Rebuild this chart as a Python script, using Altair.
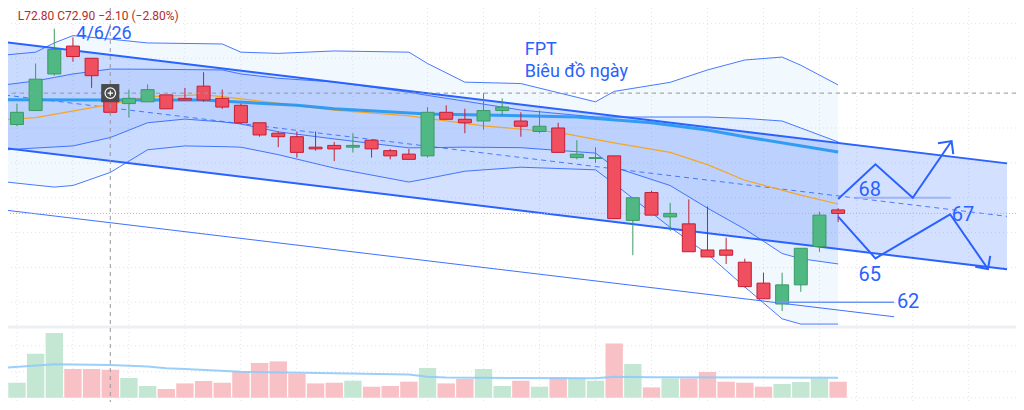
import altair as alt
import pandas as pd

# ---------------- data ----------------
idx = list(range(-1, 45))
opens = [71.0, 72.2, 73.0, 75.1, 76.7, 76.0, 73.9, 73.4, 73.5, 73.9, 73.7, 74.4, 73.7, 73.3, 72.3, 71.7,
         71.5, 70.9, 71.0, 70.9, 71.3, 70.7, 70.5, 70.4, 72.9, 72.5, 72.4, 73.0, 72.4, 71.8, 72.0, 70.3,
         70.25, 70.4, 66.7, 68.3, 66.9, 66.5, 65.0, 65.0, 64.3, 63.1, 61.9, 63.0, 65.2, 67.3]
highs = [71.7, 73.4, 75.7, 77.7, 77.2, 76.0, 74.3, 74.2, 74.5, 73.9, 74.3, 75.2, 74.2, 73.4, 72.3, 71.8,
         71.8, 71.8, 71.2, 71.7, 71.3, 70.8, 70.8, 73.2, 73.3, 73.1, 74.0, 73.7, 72.9, 73.0, 72.3, 71.3,
         70.9, 70.4, 68.0, 68.4, 67.7, 67.9, 67.5, 65.7, 64.5, 63.7, 63.7, 65.1, 67.2, 67.4]
lows = [70.9, 72.1, 73.0, 75.0, 75.8, 74.3, 72.8, 72.6, 73.5, 73.1, 73.6, 73.5, 73.1, 72.3, 71.5, 70.9,
        70.3, 70.7, 70.1, 70.6, 70.3, 70.2, 70.2, 70.3, 72.5, 71.7, 71.9, 72.7, 71.5, 71.7, 70.6, 70.2,
        70.0, 66.8, 64.7, 67.0, 66.1, 64.9, 64.6, 64.2, 62.85, 62.2, 61.5, 62.6, 64.9, 66.6]
closes = [71.6, 72.9, 74.8, 76.5, 76.1, 75.0, 72.9, 73.7, 74.2, 73.1, 73.6, 73.6, 73.2, 72.3, 71.6, 71.5,
          70.6, 70.8, 70.8, 71.0, 70.8, 70.4, 70.2, 72.9, 72.5, 72.3, 73.0, 73.2, 72.1, 72.1, 70.6, 70.5,
          70.3, 66.8, 68.0, 67.0, 67.1, 64.9, 64.6, 64.7, 62.9, 62.2, 63.0, 65.1, 67.0, 67.1]
volumes = [2.63, 2.88, 8.46, 12.44, 5.52, 5.52, 5.38, 3.79, 2.25, 1.67, 2.75, 3.21, 2.88, 5.13, 6.67, 6.98,
           4.62, 2.75, 2.88, 3.27, 2.12, 2.25, 3.08, 5.71, 2.75, 3.6, 5.52, 2.25, 3.27, 2.12, 3.9, 3.85,
           3.27, 10.44, 6.48, 1.98, 3.71, 3.71, 4.94, 3.08, 2.88, 2.12, 2.63, 3.02, 3.71, 3.08]

# volume moving average
vma_i = [-1, 2, 5, 7, 8, 9, 12, 17, 21, 22, 23, 31, 32, 34, 44]
vma_v = [5.7, 6.42, 6.28, 6.0, 5.65, 5.52, 4.98, 4.69, 4.45, 4.04, 3.87, 3.73, 4.04, 3.92, 3.85]

# bollinger-style envelopes
bb_i = [-1, 1, 2, 3, 5, 7, 9, 11, 12, 14, 17, 21, 22, 24, 27, 31, 32, 35, 37, 39, 41, 42, 44]
outer_up = [76.15, 76.35, 76.88, 77.3, 77.1, 76.88, 76.85, 76.82, 76.35, 76.28, 76.42, 76.35, 75.7, 74.63,
            74.55, 73.5, 74.1, 74.62, 75.33, 75.9, 76.07, 75.6, 74.47]
outer_lo = [68.95, 68.72, 68.61, 68.7, 69.45, 70.75, 70.97, 70.93, 70.9, 70.47, 69.7, 68.9, 69.1, 69.52,
            69.75, 69.6, 68.8, 66.3, 64.77, 62.88, 61.05, 60.75, 60.75]
inner_up = [74.43, 74.7, 74.9, 75.1, 75.38, 75.37, 75.35, 75.33, 75.1, 74.85, 74.64, 74.05, 73.87, 73.54,
            73.03, 72.63, 72.63, 72.63, 72.63, 72.55, 72.4, 72.0, 71.2]
inner_lo = [70.72, 70.85, 70.91, 70.97, 71.45, 72.3, 72.51, 72.35, 72.23, 71.78, 71.37, 70.86, 70.87, 70.9,
            70.87, 70.56, 69.75, 68.7, 67.4, 66.2, 64.8, 64.5, 64.2]

# moving averages
ma_blue_i = [-1, 5, 10, 15, 17, 22, 27, 30, 34, 37, 39, 44]
ma_blue_p = [73.62, 73.6, 73.6, 73.3, 73.1, 72.8, 72.7, 72.63, 72.3, 71.88, 71.5, 70.62]
ma_orange_i = [-1, 1, 5, 7, 10, 11, 17, 21, 25, 29, 32, 35, 37, 39, 42, 44]
ma_orange_p = [72.45, 72.6, 73.35, 73.8, 73.9, 73.8, 73.03, 72.7, 72.12, 71.75, 71.15, 70.6, 69.9, 69.0,
               68.15, 67.64]

# regression channel
reg_i = [-0.64, 53.05]
reg_up = [76.93, 69.97]
reg_mid = [73.89, 66.93]
reg_lo = [70.85, 63.89]

# thin trend line
trend_i = [-0.64, 47.0]
trend_p = [67.29, 61.17]

# drawings (projection)
zz_up_i = [44, 46, 48, 50.08]
zz_up_p = [67.93, 69.92, 68.0, 71.25]
zz_lo_i = [44, 46, 50, 52.03]
zz_lo_p = [66.91, 64.52, 67.05, 63.91]
head_up_i = [49.35, 50.08, 50.17]
head_up_p = [71.12, 71.25, 70.5]
head_lo_i = [51.35, 52.03, 52.15]
head_lo_p = [64.04, 63.91, 64.66]
lvl68_i = [45.0, 50.03]
lvl68_p = [68.0, 68.0]
lvl62_i = [40.74, 47.0]
lvl62_p = [62.0, 62.0]

level_labels = ["68", "65", "67", "62"]
level_label_i = [45.7, 45.7, 50.69, 47.75]
level_label_p = [68.47, 63.54, 66.98, 62.04]

title_lines = ["FPT", "Biêu đồ ngày"]
title_i = [27.21, 27.21]
title_p = [76.45, 75.24]
date_label = "4/6/26"
date_i, date_p = 3.18, 77.42
header_text = "L72.80 C72.90 −2.10 (−2.80%)"
header_i, header_p = 0.04, 78.22

last_price = 67.1
cross_i, cross_p = 5, 74.0
pane_sep_p = 60.58

grid_i = [0, 3, 6, 9, 12, 15, 18, 22, 25, 28, 31, 34, 37, 40, 43, 45, 48, 51]
grid_p = [62, 64, 66, 68, 70, 72, 74, 76, 78]
grid_v = [0, 5, 10]

# ---------------- styling ----------------
UP, DOWN = "#4fb883", "#ef4f5f"
UP_EDGE, DOWN_EDGE = "#3c9a64", "#c41f35"
VUP, VDOWN = "#c3e7d3", "#f8c1c6"
BLUE = "#2962ff"
FONT = "Roboto"

xs = alt.Scale(domain=[-0.2122, 53.263], nice=False, zero=False)
ps = alt.Scale(domain=[56.279, 78.884], nice=False, zero=False)
vs = alt.Scale(domain=[-0.827, 74.94], nice=False, zero=False)

X = alt.X("i:Q", scale=xs, axis=None)


def P(field):
    return alt.Y(f"{field}:Q", scale=ps, axis=None)


candles = pd.DataFrame({"i": idx, "o": opens, "h": highs, "l": lows, "c": closes, "v": volumes})
bb = pd.DataFrame({"i": bb_i, "ou": outer_up, "ol": outer_lo, "iu": inner_up, "il": inner_lo})
reg = pd.DataFrame({"i": reg_i, "up": reg_up, "mid": reg_mid, "lo": reg_lo})


def series(xi, yp, **style):
    df = pd.DataFrame({"i": xi, "p": yp, "k": list(range(len(xi)))})
    return alt.Chart(df).mark_line(clip=True, **style).encode(x=X, y=P("p"), order="k:Q")


layers = []

# grid
layers.append(alt.Chart(pd.DataFrame({"i": grid_i})).mark_rule(color="#e3e5ea", strokeDash=[1, 3], strokeWidth=1)
              .encode(x=X))
layers.append(alt.Chart(pd.DataFrame({"p": grid_p})).mark_rule(color="#e3e5ea", strokeDash=[1, 3], strokeWidth=1)
              .encode(y=P("p")))
layers.append(alt.Chart(pd.DataFrame({"v": grid_v})).mark_rule(color="#e3e5ea", strokeDash=[1, 3], strokeWidth=1)
              .encode(y=alt.Y("v:Q", scale=vs, axis=None)))

# fills
layers.append(alt.Chart(bb).mark_area(clip=True, color="#2196f3", opacity=0.06)
              .encode(x=X, y=P("ou"), y2="ol:Q"))
layers.append(alt.Chart(bb).mark_area(clip=True, color=BLUE, opacity=0.08)
              .encode(x=X, y=P("iu"), y2="il:Q"))
layers.append(alt.Chart(reg).mark_area(clip=True, color=BLUE, opacity=0.2)
              .encode(x=X, y=P("up"), y2="lo:Q"))

# pane separator
layers.append(alt.Chart(pd.DataFrame({"p": [pane_sep_p]})).mark_rule(color="#eeeff2", strokeWidth=3)
              .encode(y=P("p")))

# envelope lines
for f in ["ou", "ol", "iu", "il"]:
    layers.append(alt.Chart(bb).mark_line(clip=True, color=BLUE, strokeWidth=1, opacity=0.85)
                  .encode(x=X, y=P(f)))

# regression channel lines
layers.append(alt.Chart(reg).mark_line(clip=True, color=BLUE, strokeWidth=2).encode(x=X, y=P("up")))
layers.append(alt.Chart(reg).mark_line(clip=True, color=BLUE, strokeWidth=2).encode(x=X, y=P("lo")))
layers.append(alt.Chart(reg).mark_line(clip=True, color=BLUE, strokeWidth=1, strokeDash=[5, 4], opacity=0.8)
              .encode(x=X, y=P("mid")))
layers.append(series(trend_i, trend_p, color=BLUE, strokeWidth=1, opacity=0.9))

# moving averages
layers.append(series(ma_orange_i, ma_orange_p, color="#f5a623", strokeWidth=1.2))
layers.append(series(ma_blue_i, ma_blue_p, color="#2196f3", strokeWidth=3, opacity=0.9))

# current price line
layers.append(alt.Chart(pd.DataFrame({"p": [last_price]})).mark_rule(color="#f39aa3", strokeDash=[1, 2],
                                                                     strokeWidth=1)
              .encode(y=P("p")))

# candles
updown = "datum.c >= datum.o"
layers.append(alt.Chart(candles).mark_rule(clip=True, strokeWidth=1)
              .encode(x=X, y=P("l"), y2="h:Q",
                      color=alt.condition(updown, alt.value(UP_EDGE), alt.value(DOWN_EDGE))))
layers.append(alt.Chart(candles).mark_bar(clip=True, size=13, strokeWidth=1)
              .encode(x=X, y=P("o"), y2="c:Q",
                      fill=alt.condition(updown, alt.value(UP), alt.value(DOWN)),
                      stroke=alt.condition(updown, alt.value(UP_EDGE), alt.value(DOWN_EDGE))))

# volume
layers.append(alt.Chart(candles).mark_bar(clip=True, size=17.4)
              .encode(x=X, y=alt.Y("v:Q", scale=vs, axis=None), y2=alt.datum(0),
                      fill=alt.condition(updown, alt.value(VUP), alt.value(VDOWN))))
vma = pd.DataFrame({"i": vma_i, "v": vma_v})
layers.append(alt.Chart(vma).mark_line(clip=True, color="#90caf9", strokeWidth=2, opacity=0.9)
              .encode(x=X, y=alt.Y("v:Q", scale=vs, axis=None)))

# drawings
layers.append(series(lvl62_i, lvl62_p, color="#6f95f5", strokeWidth=1.5))
layers.append(series(lvl68_i, lvl68_p, color="#9db4f5", strokeWidth=2))
layers.append(series(zz_up_i, zz_up_p, color=BLUE, strokeWidth=2))
layers.append(series(zz_lo_i, zz_lo_p, color=BLUE, strokeWidth=2))
layers.append(series(head_up_i, head_up_p, color=BLUE, strokeWidth=2))
layers.append(series(head_lo_i, head_lo_p, color=BLUE, strokeWidth=2))

labels = pd.DataFrame({"i": level_label_i, "p": level_label_p, "t": level_labels})
layers.append(alt.Chart(labels).mark_text(font=FONT, fontSize=20, color=BLUE, align="center", baseline="middle")
              .encode(x=X, y=P("p"), text="t:N"))

titles = pd.DataFrame({"i": title_i, "p": title_p, "t": title_lines})
layers.append(alt.Chart(titles).mark_text(font=FONT, fontSize=18, color=BLUE, align="left", baseline="middle")
              .encode(x=X, y=P("p"), text="t:N"))
layers.append(alt.Chart(pd.DataFrame({"i": [date_i], "p": [date_p], "t": [date_label]}))
              .mark_text(font=FONT, fontSize=18, color=BLUE, align="left", baseline="middle")
              .encode(x=X, y=P("p"), text="t:N"))

# crosshair
layers.append(alt.Chart(pd.DataFrame({"i": [cross_i]})).mark_rule(color="#9598a1", strokeDash=[4, 4], strokeWidth=1)
              .encode(x=X))
layers.append(alt.Chart(pd.DataFrame({"p": [cross_p]})).mark_rule(color="#9598a1", strokeDash=[4, 4], strokeWidth=1)
              .encode(y=P("p")))
cross = pd.DataFrame({"i": [cross_i], "p": [cross_p]})
layers.append(alt.Chart(cross).mark_point(shape="square", size=330, filled=True, color="#4a4a4d", opacity=1)
              .encode(x=X, y=P("p")))
layers.append(alt.Chart(cross).mark_point(shape="circle", size=110, filled=False, color="white", strokeWidth=1.2,
                                          opacity=1)
              .encode(x=X, y=P("p")))
layers.append(alt.Chart(cross).mark_point(shape="M-1,0L1,0M0,-1L0,1", size=30, filled=False, color="white",
                                          strokeWidth=1.2, opacity=1)
              .encode(x=X, y=P("p")))

# header line of the price pane
layers.append(alt.Chart(pd.DataFrame({"i": [header_i], "p": [header_p], "t": [header_text]}))
              .mark_text(font=FONT, fontSize=12, color="#b22b2b", align="left", baseline="alphabetic")
              .encode(x=X, y=P("p"), text="t:N"))

chart = (alt.layer(*layers)
         .resolve_scale(y="independent")
         .properties(width=1008, height=394, autosize=alt.AutoSizeParams(type="none"), padding=0,
                     background="white")
         .configure_view(stroke=None))

chart.save("out.html", embed_options={"renderer": "svg", "actions": False})
